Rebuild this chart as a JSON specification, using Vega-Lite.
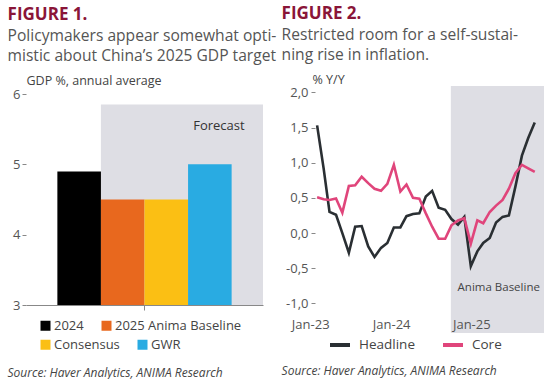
{
  "$schema": "https://vega.github.io/schema/vega-lite/v6.json",
  "padding": {"left": 7, "top": 5, "right": 0, "bottom": 0},
  "background": "white",
  "spacing": 4,
  "align": "none",
  "resolve": {"scale": {"color": "independent"}, "legend": {"color": "independent"}},
  "config": {
    "font": "Open Sans",
    "view": {"stroke": null},
    "title": {"font": "Open Sans", "fontSize": 17, "fontWeight": "bold", "color": "#8a1538", "subtitleFont": "Open Sans", "subtitleFontSize": 15.6, "subtitleColor": "#555555", "subtitleLineHeight": 20, "subtitlePadding": 5, "anchor": "start"},
    "legend": {"layout": {"bottom": {"anchor": "middle", "direction": "vertical", "margin": 5}}}
  },
  "hconcat": [
    {
      "title": {"text": "FIGURE 1.", "subtitle": ["Policymakers appear somewhat opti-", "mistic about China’s 2025 GDP target"], "anchor": "start", "frame": "bounds", "offset": 8, "dx": 0},
      "resolve": {"scale": {"color": "independent"}, "legend": {"color": "independent"}},
      "vconcat": [
        {
          "title": {"text": "Source: Haver Analytics, ANIMA Research", "orient": "bottom", "anchor": "start", "frame": "bounds", "fontSize": 12, "fontStyle": "italic", "fontWeight": "normal", "color": "#444444", "offset": 16, "dx": -5},
          "width": 237,
          "height": 219,
          "resolve": {"scale": {"x": "independent"}},
          "layer": [
            {
              "data": {"values": [{"from": 0.316, "to": 1, "bottom": 3, "top": 5.85}]},
              "mark": {"type": "rect", "color": "#dedee4"},
              "encoding": {
                "x": {"field": "from", "type": "quantitative", "scale": {"domain": [0, 1]}, "axis": null},
                "x2": {"field": "to"},
                "y": {"field": "bottom", "type": "quantitative", "scale": {"domain": [3, 6.114], "zero": false, "nice": false},
                  "axis": {"values": [3, 4, 5, 6], "format": "d", "domain": false, "title": "GDP %, annual average", "titleAngle": 0, "titleAlign": "left", "titleX": 0, "titleY": -6, "titleBaseline": "middle", "titleFontSize": 12.5, "titleFontWeight": "normal", "titleColor": "#444444", "labelFontSize": 13, "labelColor": "#555555", "tickSize": 4, "tickColor": "#888888", "grid": false, "labelPadding": 2}},
                "y2": {"field": "top"}
              }
            },
            {
              "mark": {"type": "rule", "color": "#888888", "strokeWidth": 1},
              "encoding": {
                "x": {"datum": 0, "type": "quantitative", "scale": {"domain": [0, 1]}, "axis": null},
                "y": {"datum": 3, "type": "quantitative", "scale": {"domain": [3, 6.114], "zero": false, "nice": false}},
                "y2": {"datum": 6}
              }
            },
            {
              "data": {"values": [{"label": "Forecast", "pos": 0.814, "level": 5.55}]},
              "mark": {"type": "text", "fontSize": 13, "color": "#333333"},
              "encoding": {
                "x": {"field": "pos", "type": "quantitative", "scale": {"domain": [0, 1]}, "axis": null},
                "y": {"field": "level", "type": "quantitative", "scale": {"domain": [3, 6.114], "zero": false, "nice": false}},
                "text": {"field": "label"}
              }
            },
            {
              "resolve": {"scale": {"color": "independent"}},
              "layer": [
                {
                  "data": {"values": [{"series": "2024", "gdp": 4.9}, {"series": "2025 Anima Baseline", "gdp": 4.5}]},
                  "mark": {"type": "bar"},
                  "encoding": {
                    "x": {"field": "series", "type": "nominal", "sort": null, "scale": {"domain": ["2024", "2025 Anima Baseline", "Consensus", "GWR"], "paddingInner": 0, "paddingOuter": 0.72},
                      "axis": {"labels": false, "title": null, "values": ["Consensus"], "bandPosition": 0, "tickSize": 5, "tickColor": "#888888", "domainColor": "#888888"}},
                    "y": {"field": "gdp", "type": "quantitative", "scale": {"domain": [3, 6.114], "zero": false, "nice": false}},
                    "y2": {"datum": 3},
                    "color": {"field": "series", "type": "nominal", "scale": {"domain": ["2024", "2025 Anima Baseline"], "range": ["#000000", "#e8681e"]},
                      "legend": {"orient": "bottom", "direction": "horizontal", "title": " ", "titleOrient": "right", "titlePadding": 9, "symbolType": "square", "symbolSize": 100, "symbolStrokeWidth": 0, "labelFontSize": 13, "labelColor": "#444444", "labelOffset": 2, "columnPadding": 16, "offset": 8}}
                  }
                },
                {
                  "data": {"values": [{"series": "Consensus", "gdp": 4.5}, {"series": "GWR", "gdp": 5.0}]},
                  "mark": {"type": "bar"},
                  "encoding": {
                    "x": {"field": "series", "type": "nominal", "sort": null, "scale": {"domain": ["2024", "2025 Anima Baseline", "Consensus", "GWR"], "paddingInner": 0, "paddingOuter": 0.72},
                      "axis": {"labels": false, "title": null, "values": ["Consensus"], "bandPosition": 0, "tickSize": 5, "tickColor": "#888888", "domainColor": "#888888"}},
                    "y": {"field": "gdp", "type": "quantitative", "scale": {"domain": [3, 6.114], "zero": false, "nice": false}},
                    "y2": {"datum": 3},
                    "color": {"field": "series", "type": "nominal", "scale": {"domain": ["Consensus", "GWR"], "range": ["#fbbf14", "#29abe2"]},
                      "legend": {"orient": "bottom", "direction": "horizontal", "title": " ", "titleOrient": "right", "titlePadding": 15, "symbolType": "square", "symbolSize": 100, "symbolStrokeWidth": 0, "labelFontSize": 13, "labelColor": "#444444", "labelOffset": 2, "columnPadding": 16, "offset": 8}}
                  }
                }
              ]
            }
          ]
        }
      ]
    },
    {
      "title": {"text": "FIGURE 2.", "subtitle": ["Restricted room for a self-sustai-", "ning rise in inflation."], "anchor": "start", "frame": "bounds", "offset": 8, "dx": 0},
      "resolve": {"scale": {"color": "independent"}, "legend": {"color": "independent"}},
      "vconcat": [
        {
          "title": {"text": "Source: Haver Analytics, ANIMA Research", "orient": "bottom", "anchor": "start", "frame": "bounds", "fontSize": 12, "fontStyle": "italic", "fontWeight": "normal", "color": "#444444", "offset": 13, "dx": -4},
          "width": 229,
          "height": 247,
          "layer": [
            {
              "data": {"values": [{"from": "2024-09-28", "to": "2025-12-15"}]},
              "mark": {"type": "rect", "color": "#dedee4"},
              "encoding": {
                "x": {"field": "from", "type": "temporal", "scale": {"domain": [{"year": 2022, "month": 12, "date": 22}, {"year": 2025, "month": 12, "date": 15}]},
                  "axis": {"values": [{"year": 2022, "month": 12, "date": 23}, {"year": 2024, "month": 1, "date": 12}, {"year": 2025, "month": 1, "date": 27}], "labelExpr": "'Jan-' + timeFormat(time(datum.value) + 1296000000, '%y')", "title": null, "domain": false, "ticks": false, "tickSize": 0, "grid": false, "labelPadding": -9, "labelBaseline": "middle", "labelOffset": -5, "labelFlush": false, "labelFontSize": 13, "labelColor": "#555555", "zindex": 2}},
                "x2": {"field": "to"}
              }
            },
            {
              "data": {"values": [{"label": "Anima Baseline", "when": "2024-10-30", "level": -0.78}]},
              "mark": {"type": "text", "fontSize": 11.5, "color": "#444444", "align": "left"},
              "encoding": {
                "x": {"field": "when", "type": "temporal"},
                "y": {"field": "level", "type": "quantitative", "scale": {"domain": [-1.42, 2.09], "zero": false, "nice": false},
                  "axis": {"values": [-1, -0.5, 0, 0.5, 1, 1.5, 2], "labelExpr": "replace(replace(format(datum.value, '.1f'), '.', ','), '\u2212', '-')", "title": "% Y/Y", "titleAngle": 0, "titleAlign": "left", "titleX": -3, "titleY": -7, "titleBaseline": "middle", "titleFontSize": 12.5, "titleFontWeight": "normal", "titleColor": "#444444", "labelFontSize": 13, "labelColor": "#555555", "tickSize": 4, "tickColor": "#888888", "domain": false, "grid": false, "labelPadding": 3}},
                "text": {"field": "label"}
              }
            },
            {
              "mark": {"type": "rule", "color": "#888888", "strokeWidth": 1},
              "encoding": {"x": {"datum": {"year": 2022, "month": 12, "date": 22}, "type": "temporal"}, "y": {"datum": -1, "type": "quantitative"}, "y2": {"datum": 2}}
            },
            {
              "mark": {"type": "rule", "color": "#888888", "strokeWidth": 1},
              "encoding": {"y": {"datum": 0, "type": "quantitative"}}
            },
            {
              "mark": {"type": "rule", "color": "#000000", "strokeWidth": 2, "strokeDash": [9, 3, 2, 3]},
              "encoding": {"y": {"datum": 2, "type": "quantitative"}}
            },
            {
              "data": {"values": [
                {"month": "2023-01-01", "Headline": 1.53, "Core": 0.51},
                {"month": "2023-02-01", "Headline": 0.92, "Core": 0.48},
                {"month": "2023-03-01", "Headline": 0.30, "Core": 0.47},
                {"month": "2023-04-01", "Headline": 0.26, "Core": 0.49},
                {"month": "2023-05-01", "Headline": 0.00, "Core": 0.29},
                {"month": "2023-06-01", "Headline": -0.28, "Core": 0.67},
                {"month": "2023-07-01", "Headline": 0.09, "Core": 0.68},
                {"month": "2023-08-01", "Headline": 0.10, "Core": 0.80},
                {"month": "2023-09-01", "Headline": -0.19, "Core": 0.71},
                {"month": "2023-10-01", "Headline": -0.34, "Core": 0.63},
                {"month": "2023-11-01", "Headline": -0.21, "Core": 0.60},
                {"month": "2023-12-01", "Headline": -0.14, "Core": 0.70},
                {"month": "2024-01-01", "Headline": 0.08, "Core": 0.97},
                {"month": "2024-02-01", "Headline": 0.08, "Core": 0.59},
                {"month": "2024-03-01", "Headline": 0.24, "Core": 0.69},
                {"month": "2024-04-01", "Headline": 0.27, "Core": 0.50},
                {"month": "2024-05-01", "Headline": 0.28, "Core": 0.49},
                {"month": "2024-06-01", "Headline": 0.52, "Core": 0.28},
                {"month": "2024-07-01", "Headline": 0.60, "Core": 0.09},
                {"month": "2024-08-01", "Headline": 0.36, "Core": -0.08},
                {"month": "2024-09-01", "Headline": 0.33, "Core": -0.08},
                {"month": "2024-10-01", "Headline": 0.20, "Core": 0.11},
                {"month": "2024-11-01", "Headline": 0.12, "Core": 0.18},
                {"month": "2024-12-01", "Headline": 0.23, "Core": 0.21},
                {"month": "2025-01-01", "Headline": -0.47, "Core": -0.15},
                {"month": "2025-02-01", "Headline": -0.26, "Core": 0.18},
                {"month": "2025-03-01", "Headline": -0.14, "Core": 0.14},
                {"month": "2025-04-01", "Headline": -0.07, "Core": 0.30},
                {"month": "2025-05-01", "Headline": 0.15, "Core": 0.39},
                {"month": "2025-06-01", "Headline": 0.23, "Core": 0.47},
                {"month": "2025-07-01", "Headline": 0.25, "Core": 0.63},
                {"month": "2025-08-01", "Headline": 0.66, "Core": 0.85},
                {"month": "2025-09-01", "Headline": 1.10, "Core": 0.97},
                {"month": "2025-10-01", "Headline": 1.35, "Core": 0.92},
                {"month": "2025-11-01", "Headline": 1.57, "Core": 0.87}
              ]},
              "transform": [{"fold": ["Headline", "Core"], "as": ["series", "value"]}],
              "mark": {"type": "line", "strokeWidth": 2.6},
              "encoding": {
                "x": {"field": "month", "type": "temporal"},
                "y": {"field": "value", "type": "quantitative"},
                "color": {"field": "series", "type": "nominal", "sort": null, "scale": {"domain": ["Headline", "Core"], "range": ["#2a2f33", "#e0457b"]},
                  "legend": {"orient": "bottom", "direction": "horizontal", "title": " ", "titleOrient": "right", "titlePadding": 30, "symbolType": "stroke", "symbolSize": 400, "symbolStrokeWidth": 4, "labelFontSize": 13.5, "labelColor": "#444444", "labelOffset": 7, "columnPadding": 20, "offset": 0}}
              }
            }
          ]
        }
      ]
    }
  ]
}
